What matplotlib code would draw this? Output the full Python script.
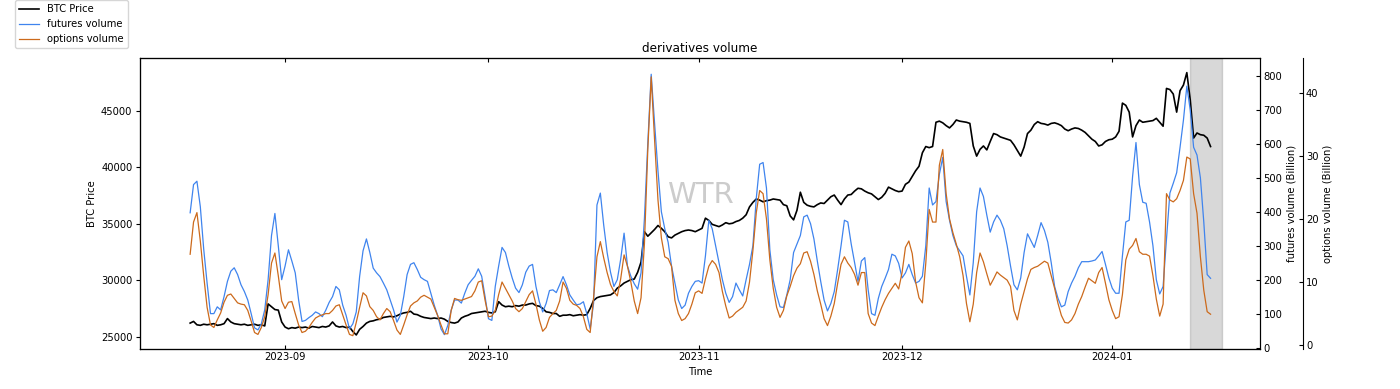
import matplotlib
matplotlib.use("Agg")
import matplotlib.pyplot as plt
import matplotlib.dates as mdates
import pandas as pd

plt.rcParams['font.size'] = 7.2

# values every 12 hours, starting 2023-08-18 00:00
start_time = "2023-08-18 00:00"

btc_price = [
    26200, 26350, 26050, 26000, 26100, 26050, 26100, 26150, 26000, 26050,
    26150, 26600, 26300, 26150, 26100, 26050, 26100, 26000, 26050, 26100,
    26000, 26050, 25950, 27900, 27650, 27400, 27350, 26300, 25850, 25700,
    25800, 25750, 25850, 25800, 25850, 25750, 25900, 25850, 25800, 25900,
    25850, 25950, 26300, 25950, 25850, 25900, 25800, 25850, 25450, 25150,
    25650, 25900, 26200, 26350, 26400, 26500, 26550, 26700, 26750, 26800,
    26750, 26850, 27000, 27100, 27150, 27250, 27000, 26950, 26800, 26700,
    26650, 26600, 26650, 26600, 26650, 26550, 26350, 26250, 26200, 26300,
    26650, 26800, 26900, 27050, 27100, 27150, 27200, 27250, 27150, 27100,
    27200, 28100, 27800, 27650, 27700, 27650, 27750, 27700, 27800, 27800,
    27900, 27950, 27750, 27700, 27500, 27200, 27150, 27050, 27050, 26800,
    26900, 26900, 26950, 26850, 26900, 26950, 26900, 26950, 27500, 28200,
    28450, 28550, 28600, 28650, 28700, 28900, 29300, 29500, 29750, 29900,
    30050, 30100, 30700, 31600, 34300, 33900, 34200, 34500, 34850, 34600,
    34300, 33850, 33750, 34000, 34150, 34300, 34400, 34450, 34400, 34300,
    34450, 34600, 35500, 35300, 34950, 34850, 34750, 34900, 35100, 35000,
    35050, 35200, 35300, 35500, 35800, 36500, 36900, 37200, 37100, 36950,
    37050, 37100, 37200, 37150, 37100, 36700, 36600, 35700, 35350, 36200,
    37800, 36900, 36650, 36550, 36500, 36700, 36850, 36800, 37100, 37400,
    37550, 37100, 36700, 37200, 37550, 37600, 37900, 38150, 38100, 37900,
    37750, 37650, 37400, 37150, 37350, 37700, 38250, 38100, 37950, 37850,
    37900, 38500, 38700, 39200, 39700, 40100, 41300, 41850, 41750, 41850,
    44000, 44100, 43950, 43700, 43500, 43800, 44200, 44100, 44050, 44000,
    43900, 41900, 41000, 41600, 41900, 41550, 42300, 43000, 42900, 42700,
    42600, 42500, 42400, 42000, 41500, 41000, 41800, 43000, 43300, 43800,
    44050, 43900, 43850, 43750, 43900, 43950, 43850, 43700, 43400, 43250,
    43400, 43500, 43450, 43300, 43100, 42800, 42500, 42300, 41900, 42000,
    42300, 42450, 42500, 42700, 43200, 45700, 45500, 44900, 42700, 43700,
    44200, 44000, 44050, 44100, 44150, 44350, 44000, 43650, 47000, 46900,
    46500, 44900, 46800, 47300, 48400, 46000, 42600, 43050, 42900, 42850,
    42600, 41850,
]

futures_volume = [
    397, 480, 490, 415, 290, 190, 100, 100, 120, 111,
    150, 195, 225, 235, 215, 185, 165, 140, 100, 58,
    52, 70, 111, 200, 330, 395, 300, 200, 240, 288,
    255, 220, 140, 77, 80, 88, 95, 105, 100, 91,
    110, 133, 150, 180, 170, 125, 95, 55, 70, 105,
    210, 285, 320, 280, 234, 220, 209, 190, 170, 140,
    111, 75, 95, 150, 215, 245, 250, 230, 207, 200,
    195, 160, 125, 95, 55, 38, 65, 110, 140, 140,
    131, 160, 185, 198, 210, 232, 210, 150, 85, 80,
    180, 240, 295, 280, 240, 205, 175, 162, 185, 222,
    240, 245, 180, 135, 105, 130, 168, 170, 162, 185,
    209, 185, 155, 140, 126, 128, 135, 100, 55, 130,
    420, 455, 360, 280, 222, 180, 200, 260, 337, 240,
    210, 188, 172, 220, 380, 602, 805, 660, 520, 400,
    350, 310, 240, 190, 140, 115, 125, 160, 180, 195,
    197, 190, 270, 375, 350, 300, 250, 200, 160, 133,
    150, 190, 170, 152, 200, 245, 300, 440, 540, 545,
    470, 288, 200, 155, 120, 118, 155, 200, 280, 305,
    330, 385, 390, 365, 320, 255, 195, 140, 108, 130,
    165, 230, 300, 375, 370, 305, 250, 195, 255, 265,
    170, 100, 95, 145, 180, 204, 230, 275, 270, 248,
    205, 220, 245, 215, 190, 195, 210, 300, 470, 420,
    430, 510, 560, 430, 375, 330, 300, 285, 270, 210,
    155, 250, 400, 470, 445, 390, 340, 370, 390, 375,
    350, 300, 240, 185, 170, 205, 280, 335, 315, 295,
    330, 368, 345, 310, 250, 180, 145, 120, 125, 165,
    190, 210, 235, 253, 253, 253, 255, 258, 270, 283,
    245, 205, 175, 160, 160, 270, 370, 375, 504, 604,
    480, 428, 425, 370, 300, 200, 158, 180, 320, 455,
    484, 515, 590, 670, 770, 700, 590, 567, 500, 370,
    215, 204,
]

options_volume = [
    14.4, 19.5, 21.0, 16.5, 11.0, 6.0, 3.2, 2.8, 4.0, 5.1,
    6.8, 7.9, 8.1, 7.4, 6.7, 6.5, 6.4, 5.5, 3.8, 2.0,
    1.7, 2.8, 4.5, 8.0, 13.0, 14.6, 11.0, 7.0, 5.8, 6.8,
    6.9, 5.0, 3.2, 2.0, 2.2, 2.8, 3.6, 4.3, 4.6, 4.8,
    5.0, 5.0, 5.5, 6.2, 6.4, 4.8, 3.2, 1.7, 1.5, 3.6,
    6.0, 8.3, 7.8, 6.1, 5.5, 4.5, 4.0, 5.0, 5.8, 5.3,
    3.9, 2.4, 1.7, 3.2, 4.8, 6.2, 6.7, 7.0, 7.6, 7.9,
    7.6, 7.3, 6.0, 4.7, 3.2, 1.8, 1.8, 5.5, 7.4, 7.2,
    7.1, 7.3, 7.5, 7.7, 8.6, 10.0, 10.2, 7.1, 4.5, 4.6,
    5.5, 8.0, 10.0, 9.0, 8.0, 7.0, 5.8, 5.3, 5.8, 6.9,
    8.0, 8.6, 6.5, 4.0, 2.2, 2.8, 4.4, 5.0, 5.5, 7.0,
    10.0, 9.0, 7.1, 6.5, 6.3, 5.8, 4.5, 2.5, 2.0, 7.5,
    14.0, 16.4, 13.8, 11.5, 9.6, 8.5, 7.8, 10.5, 14.3, 12.5,
    10.0, 7.0, 5.0, 7.5, 16.0, 31.0, 42.5, 32.5, 23.0, 17.0,
    14.0, 13.7, 12.5, 7.1, 5.0, 3.9, 4.2, 5.0, 6.5, 8.3,
    8.6, 8.2, 10.5, 12.5, 13.4, 12.8, 11.5, 8.5, 6.2, 4.3,
    4.6, 5.2, 5.6, 6.0, 7.0, 10.0, 15.0, 21.0, 24.5, 24.0,
    20.0, 13.5, 9.0, 6.0, 4.4, 5.5, 7.8, 9.3, 11.0, 12.2,
    12.9, 14.6, 14.8, 13.3, 11.2, 8.6, 6.5, 4.2, 3.1, 4.6,
    6.6, 9.8, 12.8, 14.0, 13.0, 12.3, 11.2, 9.5, 11.5, 11.5,
    5.0, 3.5, 3.1, 4.6, 6.0, 7.2, 8.2, 9.0, 9.8, 8.9,
    11.5, 15.5, 16.5, 14.5, 10.0, 7.5, 6.7, 13.0, 21.5, 19.5,
    19.5, 28.5, 31.0, 24.0, 20.0, 17.8, 16.0, 14.0, 11.0, 6.6,
    3.7, 6.5, 11.5, 14.6, 13.2, 11.3, 9.5, 10.5, 11.6, 11.1,
    10.7, 10.3, 9.3, 5.5, 4.0, 6.5, 8.5, 10.5, 12.0, 12.3,
    12.5, 12.9, 13.3, 13.0, 11.0, 9.0, 6.6, 4.7, 3.6, 3.5,
    4.0, 5.0, 6.5, 7.7, 9.2, 10.6, 10.2, 9.8, 11.5, 12.3,
    9.8, 7.2, 5.5, 4.2, 4.5, 8.0, 13.5, 15.2, 15.8, 16.9,
    14.8, 14.4, 14.4, 14.1, 11.0, 7.3, 4.6, 6.5, 24.0, 23.0,
    22.7, 23.2, 24.5, 26.1, 29.8, 29.5, 24.0, 20.9, 14.0, 8.7,
    5.3, 4.9,
]

span_start = "2024-01-12 12:00"
span_end = "2024-01-17 06:00"

times = pd.date_range(start_time, periods=len(btc_price), freq="12h")

fig = plt.figure(figsize=(14, 3.89), dpi=100)
ax = fig.add_axes([0.1, 0.103, 0.8, 0.748])

l1, = ax.plot(times, btc_price, color='black', lw=1.2, label='BTC Price')
ax.axvspan(pd.Timestamp(span_start), pd.Timestamp(span_end), color='gray', alpha=0.3)

ax2 = ax.twinx()
l2, = ax2.plot(times, futures_volume, color='#3f84ee', lw=0.9, label='futures volume')

ax3 = ax.twinx()
ax3.spines['right'].set_position(('axes', 1.038))
l3, = ax3.plot(times, options_volume, color='#cc6a1c', lw=0.9, label='options volume')

ax.set_xlim(pd.Timestamp('2023-08-10 14:30'), pd.Timestamp('2024-01-22 19:00'))
ax.set_ylim(23910, 49700)
ax2.set_ylim(-4, 853)
ax3.set_ylim(-0.6, 45.5)

ax.xaxis.set_major_locator(mdates.MonthLocator())
ax.xaxis.set_major_formatter(mdates.DateFormatter('%Y-%m'))
ax.set_yticks([25000, 30000, 35000, 40000, 45000])
ax2.set_yticks(range(0, 801, 100))
ax3.set_yticks(range(0, 41, 10))

ax.tick_params(axis='y', direction='out', length=3, pad=2.5)
ax.tick_params(axis='x', direction='in', top=True, length=3, pad=2.5)
ax2.tick_params(axis='y', direction='in', length=3, pad=2.5)
ax3.tick_params(axis='y', direction='in', length=3, pad=2.5)

ax.set_xlabel('Time', labelpad=3)
ax.set_ylabel('BTC Price', labelpad=3)
ax2.set_ylabel('futures volume (Billion)', labelpad=3)
ax3.set_ylabel('options volume (Billion)', labelpad=3)
ax.set_title('derivatives volume', fontsize=8.64, pad=4)

ax.text(0.5, 0.5, 'WTR', transform=ax.transAxes, fontsize=21,
        color='gray', alpha=0.4, ha='center', va='baseline')

fig.legend([l1, l2, l3], [l.get_label() for l in (l1, l2, l3)],
           loc='upper left', bbox_to_anchor=(0.011, 0.999), borderaxespad=0,
           fontsize=7.2)

fig.savefig('out.png', dpi=100)
